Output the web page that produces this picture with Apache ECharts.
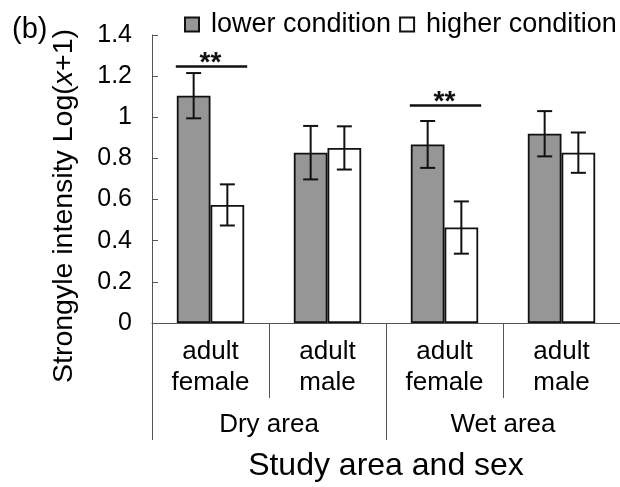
<!DOCTYPE html>
<html>
<head>
<meta charset="utf-8">
<script src="https://cdn.jsdelivr.net/npm/echarts@6/dist/echarts.min.js"></script>
<style>
  html, body { margin: 0; padding: 0; background: #fff; }
  #chart { width: 620px; height: 487px; }
</style>
</head>
<body>
<div id="chart"></div>
<script>
// groups along the x axis
const categories = ['adult\nfemale', 'adult\nmale', 'adult\nfemale', 'adult\nmale'];
const areas = ['Dry area', 'Wet area'];

// means and error bars (log(x+1))
const lowerMean = [1.105, 0.828, 0.868, 0.92];
const lowerErr = [0.11, 0.13, 0.114, 0.11];
const higherMean = [0.574, 0.851, 0.464, 0.828];
const higherErr = [0.10, 0.105, 0.127, 0.098];

// significance markers
const sigGroup = [0, 2];
const sigLevel = [1.247, 1.057];
const sigText = ['**', '**'];

const FONT = 'Liberation Sans, Arial, sans-serif';
const GAP = 0.424; // barCategoryGap

let chart = echarts.init(document.getElementById('chart'));

function errorBar(sign) {
  return function (params, api) {
    let i = api.value(0), m = api.value(1), e = api.value(2);
    let band = api.size([1, 0])[0];
    let bw = band * (1 - GAP) / 2;
    let x = api.coord([i, m])[0] + sign * bw / 2;
    let top = api.coord([i, m + e])[1];
    let bot = api.coord([i, m - e])[1];
    let cap = 7.5;
    let st = { stroke: '#111', lineWidth: 2 };
    return {
      type: 'group',
      children: [
        { type: 'line', shape: { x1: x, y1: top, x2: x, y2: bot }, style: st },
        { type: 'line', shape: { x1: x - cap, y1: top, x2: x + cap, y2: top }, style: st },
        { type: 'line', shape: { x1: x - cap, y1: bot, x2: x + cap, y2: bot }, style: st }
      ]
    };
  };
}

let option = {
  animation: false,
  title: {
    text: '(b)',
    left: 7,
    top: 10,
    textStyle: { fontFamily: FONT, fontSize: 29, fontWeight: 'normal', color: '#000' }
  },
  graphic: [
    {
      type: 'text',
      x: 64,
      y: 206,
      rotation: Math.PI / 2,
      style: {
        text: '{n|Strongyle intensity Log(}{i|x}{n|+1)}',
        align: 'center',
        verticalAlign: 'middle',
        rich: {
          n: { fontFamily: FONT, fontSize: 28.5, fill: '#000' },
          i: { fontFamily: FONT, fontSize: 28.5, fontStyle: 'italic', fill: '#000' }
        }
      }
    }
  ],
  legend: {
    left: 179,
    top: 6,
    width: 470,
    itemWidth: 14,
    itemHeight: 14,
    itemGap: 8,
    icon: 'rect',
    textStyle: { fontFamily: FONT, fontSize: 27, color: '#000', padding: [0, 0, 0, 7] },
    data: ['lower condition', 'higher condition']
  },
  grid: { left: 152, right: -4, top: 35, bottom: 160.5, containLabel: false },
  xAxis: [
    {
      type: 'category',
      data: categories,
      axisLine: { lineStyle: { color: '#555', width: 1 } },
      axisTick: { show: true, interval: 0, length: 75, lineStyle: { color: '#555', width: 1 } },
      axisLabel: { interval: 0, margin: 13, fontFamily: FONT, fontSize: 26, lineHeight: 31, color: '#000' }
    },
    {
      type: 'category',
      data: areas,
      position: 'bottom',
      axisLine: { show: false },
      axisTick: { show: true, interval: 0, length: 117, lineStyle: { color: '#555', width: 1 } },
      axisLabel: { interval: 0, margin: 86.5, fontFamily: FONT, fontSize: 26, lineHeight: 30, color: '#000' },
      name: 'Study area and sex',
      nameLocation: 'middle',
      nameGap: 127,
      nameTextStyle: { fontFamily: FONT, fontSize: 32, lineHeight: 32, color: '#000' }
    }
  ],
  yAxis: {
    type: 'value',
    min: 0,
    max: 1.4,
    interval: 0.2,
    splitLine: { show: false },
    axisLine: { show: true, lineStyle: { color: '#555', width: 1 } },
    axisTick: { show: true, inside: true, length: 6, lineStyle: { color: '#555', width: 1 } },
    axisLabel: { margin: 20, fontFamily: FONT, fontSize: 25, color: '#000' }
  },
  series: [
    {
      name: 'lower condition',
      type: 'bar',
      data: lowerMean,
      barGap: '0%',
      barCategoryGap: (GAP * 100) + '%',
      itemStyle: { color: '#969696', borderColor: '#111', borderWidth: 1.8 }
    },
    {
      name: 'higher condition',
      type: 'bar',
      data: higherMean,
      itemStyle: { color: '#ffffff', borderColor: '#111', borderWidth: 1.8 }
    },
    {
      type: 'custom',
      renderItem: errorBar(-1),
      data: lowerMean.map((m, i) => [i, m, lowerErr[i]]),
      z: 5
    },
    {
      type: 'custom',
      renderItem: errorBar(1),
      data: higherMean.map((m, i) => [i, m, higherErr[i]]),
      z: 5
    },
    {
      type: 'custom',
      renderItem: function (params, api) {
        let i = api.value(0), lv = api.value(1);
        let p = api.coord([i, lv]);
        let band = api.size([1, 0])[0];
        let half = band * (1 - GAP) / 2 + 1;
        return {
          type: 'group',
          children: [
            { type: 'line', shape: { x1: p[0] - half, y1: p[1], x2: p[0] + half + 2, y2: p[1] },
              style: { stroke: '#111', lineWidth: 2.5 } },
            { type: 'text', x: p[0], y: p[1] - 3,
              style: { text: sigText[params.dataIndex], fontFamily: FONT, fontSize: 28, fontWeight: 'bold',
                       fill: '#111', align: 'center', verticalAlign: 'middle' } }
          ]
        };
      },
      data: sigGroup.map((g, k) => [g, sigLevel[k]]),
      z: 5
    }
  ]
};

chart.setOption(option);
</script>
</body>
</html>
